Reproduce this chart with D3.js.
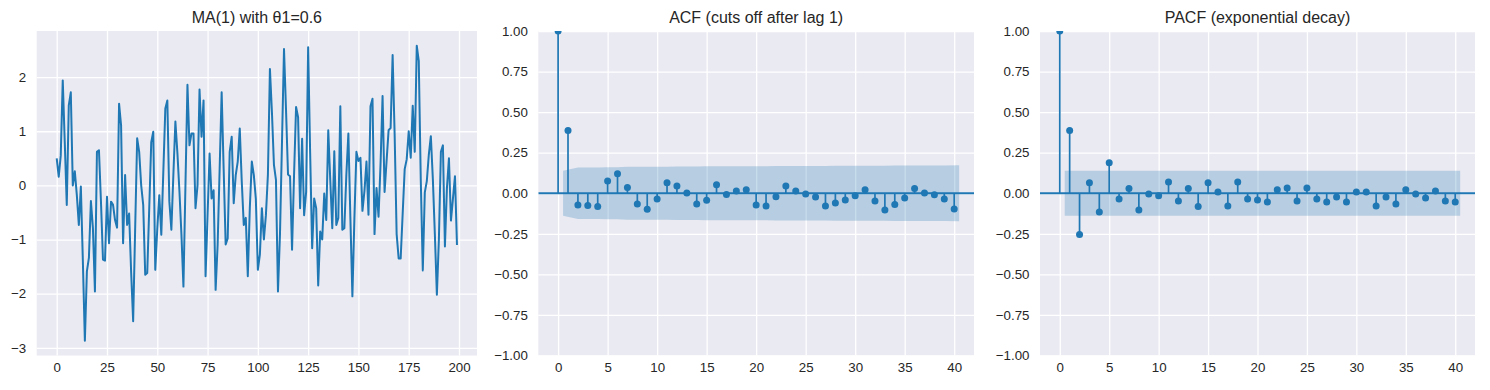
<!DOCTYPE html>
<html><head><meta charset="utf-8">
<script src="https://cdn.jsdelivr.net/npm/d3@7"></script>
<style>
body{margin:0;background:#ffffff;}
svg text{font-family:"Liberation Sans",Arial,sans-serif;}
</style></head><body>
<svg id="chart" width="1490" height="390"></svg>
<script>
// ---------------- data ----------------
const seriesTitle = "MA(1) with θ1=0.6";
const acfTitle = "ACF (cuts off after lag 1)";
const pacfTitle = "PACF (exponential decay)";

const maSeries = [
 0.50, 0.16, 0.55, 1.94, 0.80, -0.36, 1.48, 1.72, 0.00, 0.26,
 -0.18, -0.73, -0.02, -1.40, -2.87, -1.59, -1.34, -0.29, -0.79, -1.96,
 0.62, 0.65, -0.30, -1.37, -1.39, -0.21, -1.07, -0.30, -0.36, -0.64,
 -0.78, 1.51, 1.11, -1.07, 0.19, -0.73, -0.52, -1.60, -2.51, -0.80,
 0.87, 0.62, 0.00, -0.36, -1.65, -1.62, -0.42, 0.80, 0.99, -1.56,
 -0.80, -0.18, -0.91, 0.25, 1.42, 1.57, -0.30, -0.82, 0.20, 1.18,
 0.60, -0.10, -0.90, -1.87, 0.00, 1.86, 0.74, 0.96, 0.96, -0.42,
 0.00, 1.77, 0.90, 1.57, -1.68, -0.55, 0.59, -0.24, -0.09, -1.93,
 -1.10, 0.30, 1.72, 0.30, -1.09, -0.98, 0.62, 0.90, -0.33, 0.19,
 0.44, 1.05, 0.07, -0.73, -0.60, -1.68, -0.42, 0.44, 0.19, -0.25,
 -1.56, -1.28, -0.42, -1.00, -0.55, 0.20, 2.15, 1.35, 0.38, 0.10,
 -1.96, -0.90, 0.80, 2.52, 1.40, 0.20, 0.17, -1.19, 0.20, 1.45,
 1.26, -0.42, 0.86, -0.55, -0.12, 2.55, 0.60, -1.16, -0.24, -0.42,
 -1.85, -0.85, -1.00, -0.15, -0.64, 1.02, 0.10, -0.79, 0.63, -0.73,
 -0.60, 1.46, -0.82, -0.79, 0.20, 0.96, -0.60, -2.05, -0.60, 0.62,
 0.45, 0.51, -0.47, -0.10, 0.44, -0.54, 1.46, 1.60, -0.90, -0.05,
 -0.58, 0.40, 1.65, -0.12, 0.45, 1.02, 1.06, 2.41, 0.95, -0.90,
 -1.35, -1.35, -0.52, 0.30, 0.48, 1.00, 0.51, 1.47, 0.62, 2.58,
 2.30, 0.10, -1.57, -0.13, 0.08, 0.57, 0.91, 0.12, -0.90, -2.02,
 -1.00, 0.62, 0.74, -1.13, -0.05, 0.50, -0.65, -0.24, 0.17, -1.10
];

// autocorrelations for lags 0..40
const acfValues = [
 1.000, 0.386, -0.072, -0.076, -0.082, 0.076, 0.120, 0.035, -0.066, -0.099,
 -0.035, 0.064, 0.045, 0.002, -0.066, -0.043, 0.052, -0.008, 0.014, 0.021,
 -0.072, -0.078, -0.021, 0.045, 0.014, -0.004, -0.023, -0.078, -0.060, -0.041,
 -0.016, 0.021, -0.047, -0.103, -0.070, -0.029, 0.029, 0.002, -0.010, -0.035,
 -0.097
];
// half-width of the ACF confidence band for lags 1..40
const acfBand = [
 0.139, 0.158, 0.159, 0.159, 0.160, 0.161, 0.163, 0.163, 0.163, 0.164,
 0.164, 0.165, 0.165, 0.165, 0.166, 0.166, 0.166, 0.166, 0.166, 0.166,
 0.167, 0.168, 0.168, 0.168, 0.168, 0.168, 0.168, 0.169, 0.169, 0.169,
 0.169, 0.169, 0.170, 0.171, 0.171, 0.171, 0.171, 0.171, 0.171, 0.172
];
// partial autocorrelations for lags 0..40
const pacfValues = [
 1.000, 0.386, -0.255, 0.064, -0.115, 0.188, -0.035, 0.029, -0.103, -0.004,
 -0.016, 0.070, -0.047, 0.029, -0.082, 0.064, 0.008, -0.078, 0.070, -0.035,
 -0.041, -0.054, 0.021, 0.033, -0.047, 0.033, -0.035, -0.054, -0.023, -0.054,
 0.008, 0.008, -0.078, -0.023, -0.066, 0.021, -0.004, -0.029, 0.014, -0.047,
 -0.054
];
const pacfBand = 0.1386;

const seriesXTicks = [0, 25, 50, 75, 100, 125, 150, 175, 200];
const seriesYTicks = [-3, -2, -1, 0, 1, 2];
const lagTicks = [0, 5, 10, 15, 20, 25, 30, 35, 40];
const corrTicks = [-1, -0.75, -0.5, -0.25, 0, 0.25, 0.5, 0.75, 1];

// ---------------- drawing ----------------
const C0 = "#1f77b4";
const BG = "#eaeaf2";
const TXT = "#262626";
const svg = d3.select("#chart");
const TOP = 31, BOTTOM = 355.5;

const minus = s => s.replace("-", "\u2212");
const fmtInt = d => minus(d3.format("d")(d));
const fmt2 = d => minus(d3.format(".2f")(d));

function makePanel(id, left, right, xDomain, yDomain, xTicks, yTicks, yFmt, title) {
  const x = d3.scaleLinear().domain(xDomain).range([left, right]);
  const y = d3.scaleLinear().domain(yDomain).range([BOTTOM, TOP]);
  const g = svg.append("g");
  g.append("rect").attr("x", left).attr("y", TOP)
    .attr("width", right - left).attr("height", BOTTOM - TOP).attr("fill", BG);
  // grid
  g.append("g").attr("transform", `translate(0,${BOTTOM})`)
    .call(d3.axisBottom(x).tickValues(xTicks).tickSize(-(BOTTOM - TOP)).tickFormat(""))
    .call(a => a.select(".domain").remove())
    .selectAll("line").attr("stroke", "#ffffff").attr("stroke-width", 1.3);
  g.append("g").attr("transform", `translate(${left},0)`)
    .call(d3.axisLeft(y).tickValues(yTicks).tickSize(-(right - left)).tickFormat(""))
    .call(a => a.select(".domain").remove())
    .selectAll("line").attr("stroke", "#ffffff").attr("stroke-width", 1.3);
  // tick labels
  const xa = g.append("g").attr("transform", `translate(0,${BOTTOM})`)
    .call(d3.axisBottom(x).tickValues(xTicks).tickSize(0).tickPadding(7).tickFormat(fmtInt));
  const ya = g.append("g").attr("transform", `translate(${left},0)`)
    .call(d3.axisLeft(y).tickValues(yTicks).tickSize(0).tickPadding(10.5).tickFormat(yFmt));
  [xa, ya].forEach(a => {
    a.select(".domain").remove();
    a.attr("font-family", null).attr("font-size", 13.3).attr("color", TXT);
  });
  g.append("text").attr("x", (left + right) / 2).attr("y", 23)
    .attr("text-anchor", "middle").attr("font-size", 16).attr("fill", TXT).text(title);
  svg.append("clipPath").attr("id", id)
    .append("rect").attr("x", left).attr("y", TOP)
    .attr("width", right - left).attr("height", BOTTOM - TOP);
  const plot = g.append("g").attr("clip-path", `url(#${id})`);
  return {x, y, plot};
}

// Panel 1: series
(function () {
  const n = maSeries.length;
  const ext = d3.extent(maSeries);
  const padY = (ext[1] - ext[0]) * 0.05;
  const padX = (n - 1) * 0.05;
  const {x, y, plot} = makePanel("clip1", 36.7, 477, [-padX, n - 1 + padX],
    [ext[0] - padY, ext[1] + padY], seriesXTicks, seriesYTicks, fmtInt, seriesTitle);
  plot.append("path").datum(maSeries)
    .attr("d", d3.line().x((d, i) => x(i)).y(d => y(d)))
    .attr("fill", "none").attr("stroke", C0).attr("stroke-width", 2)
    .attr("stroke-linejoin", "round");
})();

function corrPanel(id, left, right, values, bandAt, title) {
  const nl = values.length - 1;
  const {x, y, plot} = makePanel(id, left, right, [-nl * 0.05, nl * 1.05],
    [-1, 1], lagTicks, corrTicks, fmt2, title);
  const lags = values.map((d, i) => i);
  plot.selectAll("line.stem").data(lags).enter().append("line")
    .attr("x1", d => x(d)).attr("x2", d => x(d))
    .attr("y1", y(0)).attr("y2", d => y(values[d]))
    .attr("stroke", C0).attr("stroke-width", 1.7);
  plot.append("line").attr("x1", x.range()[0]).attr("x2", x.range()[1])
    .attr("y1", y(0)).attr("y2", y(0)).attr("stroke", C0).attr("stroke-width", 2);
  plot.selectAll("circle").data(lags).enter().append("circle")
    .attr("cx", d => x(d)).attr("cy", d => y(values[d])).attr("r", 3.5).attr("fill", C0);
  const bandPts = lags.slice(1).map(k => ({
    lag: k === 1 ? 0.5 : (k === nl ? nl + 0.5 : k), w: bandAt(k)
  }));
  plot.append("path").datum(bandPts)
    .attr("d", d3.area().x(d => x(d.lag)).y0(d => y(-d.w)).y1(d => y(d.w)))
    .attr("fill", C0).attr("fill-opacity", 0.25);
}

corrPanel("clip2", 538.3, 974, acfValues, k => acfBand[k - 1], acfTitle);
corrPanel("clip3", 1040, 1475, pacfValues, k => pacfBand, pacfTitle);
</script>
</body></html>
